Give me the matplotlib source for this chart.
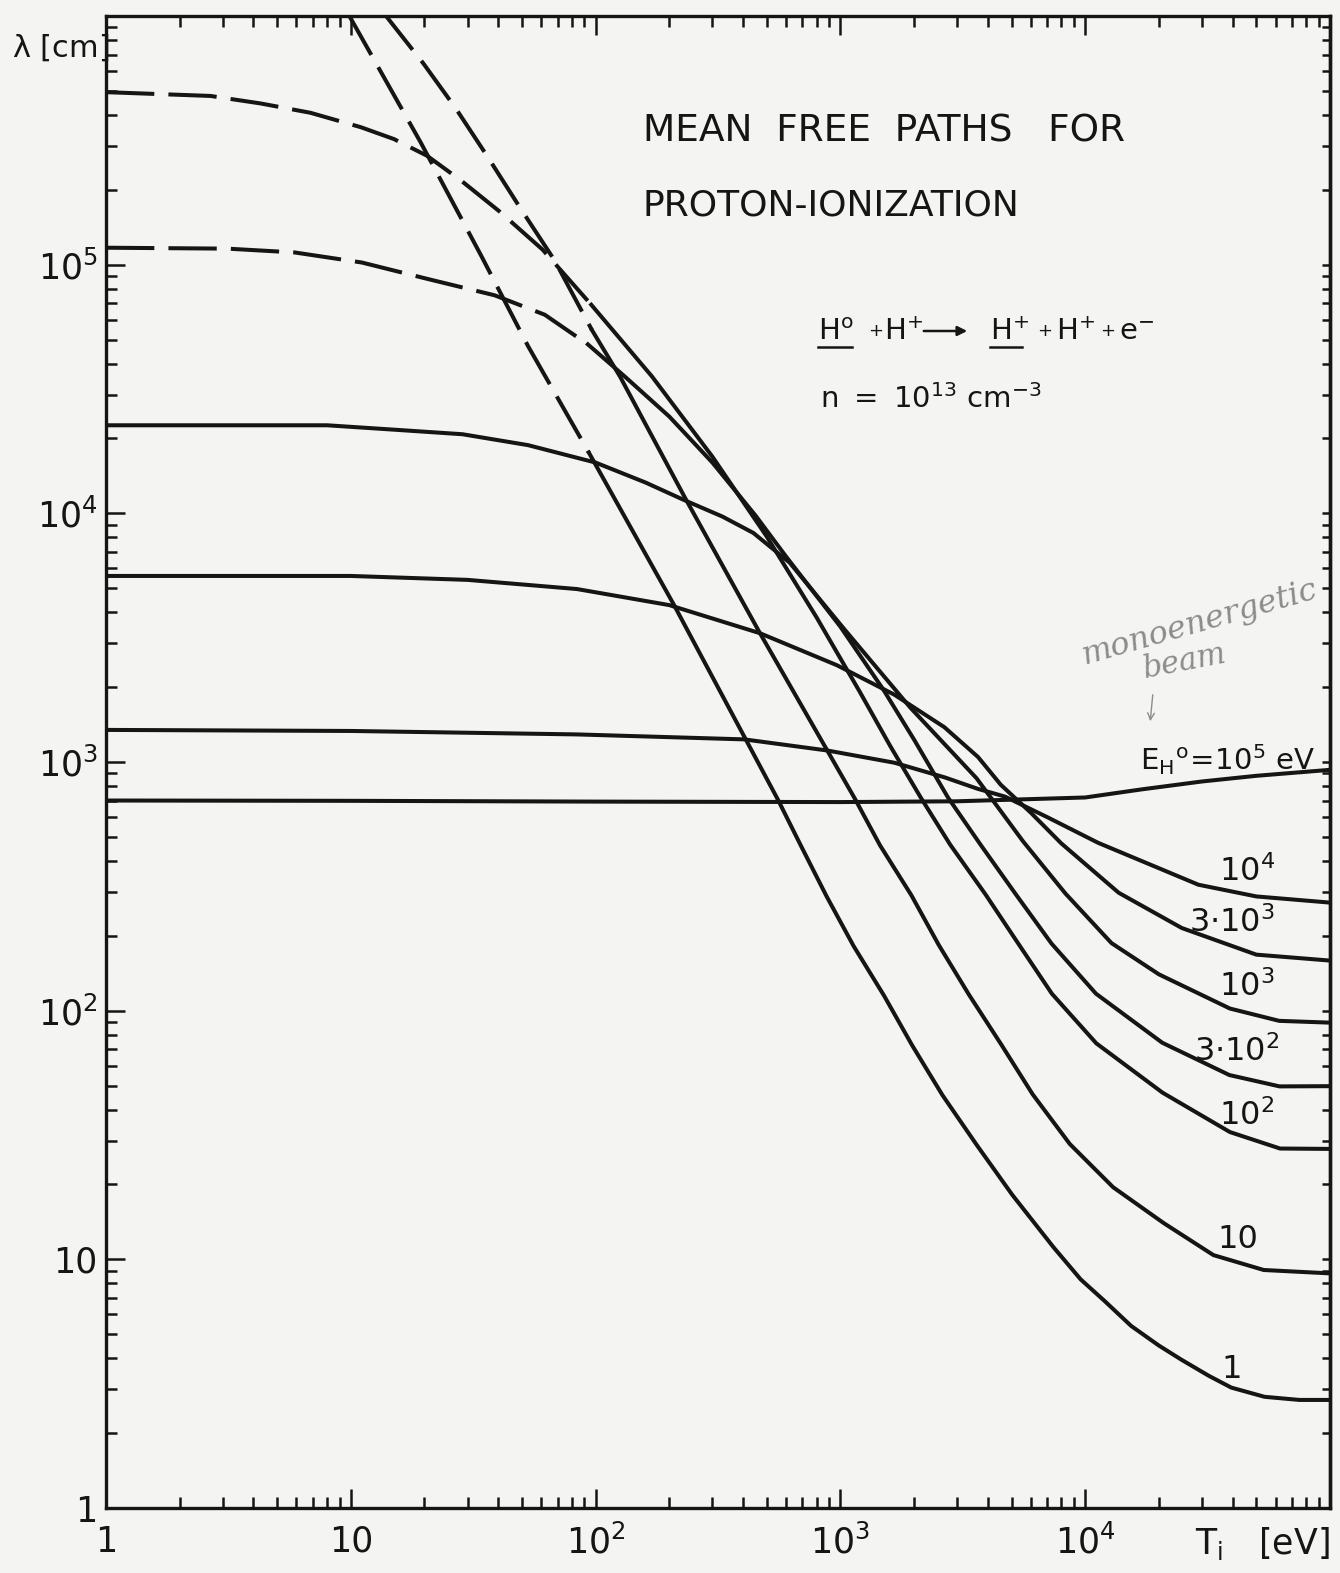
import matplotlib
matplotlib.use("Agg")
import matplotlib.pyplot as plt
from matplotlib.ticker import FixedLocator, FixedFormatter, LogLocator, NullFormatter
import numpy as np

# ion temperature T_i [eV] and mean free path lambda [cm],
# one pair of lists per H0 beam energy
t_e1 = [9.7, 19.3, 34.2, 53, 94, 208, 555, 691, 877, 1132, 1507, 1966, 2613,
        3608, 5030, 7413, 9590, 12000, 15400, 20000, 24700, 32000, 39500, 54000,
        75000, 100000]
lam_e1 = [1.03e6, 3.1e5, 1.08e5, 4.7e4, 1.75e4, 4320, 707, 459, 289, 182, 115,
          72.4, 45.7, 28.8, 18.2, 11.2, 8.3, 6.8, 5.4, 4.5, 3.95, 3.4, 3.05, 2.8,
          2.72, 2.72]

t_e10 = [13.5, 19.8, 26.8, 36, 50, 68, 96.7, 126, 234, 469, 800, 1145, 1452, 1950,
         2520, 3350, 4540, 6100, 8650, 13000, 20900, 33400, 53600, 100000]
lam_e10 = [1.04e6, 6.44e5, 4.26e5, 2.74e5, 1.65e5, 1.04e5, 5.45e4, 3.54e4, 11360,
           3300, 1320, 713, 462, 291, 184, 116, 73.1, 46.1, 29.1, 19.5, 14.0, 10.4,
           9.06, 8.78]

t_e100 = [1, 2.67, 4.28, 6.85, 11, 15, 20.5, 28.2, 40.4, 60.7, 96, 170, 300, 500,
          800, 1200, 1600, 2130, 2805, 3910, 5350, 7310, 11100, 20700, 39000, 62500,
          100000]
lam_e100 = [4.94e5, 4.77e5, 4.45e5, 4.08e5, 3.57e5, 3.2e5, 2.74e5, 2.18e5, 1.64e5,
            1.15e5, 6.9e4, 3.55e4, 16900, 8070, 3810, 1915, 1157, 719, 466, 294, 185,
            117, 73.9, 46.8, 32.5, 27.9, 27.8]

t_e300 = [1, 3.13, 5.89, 11.1, 20.6, 38.7, 62, 93, 132, 200, 300, 450, 600, 1000,
          1500, 2000, 2748, 3720, 5190, 7290, 11070, 20650, 38800, 62200, 100000]
lam_e300 = [1.17e5, 1.16e5, 1.12e5, 1.02e5, 8.76e4, 7.53e4, 6.29e4, 4.78e4, 3.54e4,
            2.45e4, 1.6e4, 9800, 6700, 3500, 1950, 1230, 721, 468, 295, 186, 117,
            74.3, 55.1, 49.6, 49.7]

t_e1k = [1, 8, 15, 28.6, 53, 100, 160, 228, 330, 441, 620, 1030, 1930, 3600, 5570,
         8300, 12800, 20000, 39000, 62000, 100000]
lam_e1k = [22600, 22600, 21700, 20800, 18800, 16000, 13300, 11350, 9700, 8340, 6340,
           3450, 1655, 860, 480, 296, 187, 140, 102, 91, 89.5]

t_e3k = [1, 10, 30, 84, 200, 469, 968, 1660, 2660, 3650, 4520, 6000, 7980, 13700,
         24800, 50000, 100000]
lam_e3k = [5600, 5600, 5400, 4960, 4275, 3296, 2450, 1866, 1380, 1047, 810, 625, 471,
           298, 215, 168, 159]

t_e10k = [1, 10, 84, 405, 886, 1664, 2670, 3640, 4700, 7000, 11300, 29000, 50000,
          100000]
lam_e10k = [1346, 1333, 1291, 1233, 1112, 993, 867, 780, 726, 600, 473, 321, 288, 272]

t_e100k = [1, 10, 100, 1000, 3000, 10000, 17000, 30000, 50000, 100000]
lam_e100k = [700, 698, 693, 690, 695, 720, 776, 835, 880, 930]

curves = [(t_e1, lam_e1, True), (t_e10, lam_e10, True), (t_e100, lam_e100, True),
          (t_e300, lam_e300, True), (t_e1k, lam_e1k, False), (t_e3k, lam_e3k, False),
          (t_e10k, lam_e10k, False), (t_e100k, lam_e100k, False)]

curve_labels = [r"$\mathdefault{10^{4}}$", r"$\mathdefault{3{\cdot}10^{3}}$",
                r"$\mathdefault{10^{3}}$", r"$\mathdefault{3{\cdot}10^{2}}$",
                r"$\mathdefault{10^{2}}$", "10", "1"]

W, H = 1340, 1573
ink = "#151515"
paper = "#f4f4f2"

fig = plt.figure(figsize=(W / 100, H / 100), dpi=100, facecolor=paper)
ax = fig.add_axes([106 / W, 1 - 1508 / H, 1224 / W, 1492 / H], facecolor=paper)
ax.set_xscale("log")
ax.set_yscale("log")
ax.set_xlim(1, 1e5)
ax.set_ylim(1, 1e6)


def px(x, y):
    return x / W, 1 - y / H


# dashed below T_i = 100 eV for the low energies
for t, lam, has_dash in curves:
    t = np.array(t)
    lam = np.array(lam)
    if has_dash:
        k = np.where(t <= 105)[0][-1]
        ax.plot(t[:k + 1], lam[:k + 1], color=ink, lw=2.9, ls=(0, (12, 3.5)),
                dash_capstyle="butt", dash_joinstyle="round")
        ax.plot(t[k:], lam[k:], color=ink, lw=2.9, solid_joinstyle="round")
    else:
        ax.plot(t, lam, color=ink, lw=2.9, solid_joinstyle="round")

for s in ax.spines.values():
    s.set_linewidth(2.4)
    s.set_color(ink)

ax.xaxis.set_major_locator(FixedLocator([1, 10, 1e2, 1e3, 1e4, 1e5]))
ax.xaxis.set_major_formatter(FixedFormatter(["1", "10", r"$\mathdefault{10^{2}}$",
                                             r"$\mathdefault{10^{3}}$",
                                             r"$\mathdefault{10^{4}}$", ""]))
ax.yaxis.set_major_locator(FixedLocator([1, 10, 1e2, 1e3, 1e4, 1e5, 1e6]))
ax.yaxis.set_major_formatter(FixedFormatter(["1", "10", r"$\mathdefault{10^{2}}$",
                                             r"$\mathdefault{10^{3}}$",
                                             r"$\mathdefault{10^{4}}$",
                                             r"$\mathdefault{10^{5}}$", ""]))
ax.xaxis.set_minor_locator(LogLocator(base=10, subs=np.arange(2, 10), numticks=20))
ax.yaxis.set_minor_locator(LogLocator(base=10, subs=np.arange(2, 10), numticks=20))
ax.xaxis.set_minor_formatter(NullFormatter())
ax.yaxis.set_minor_formatter(NullFormatter())

ax.tick_params(which="both", direction="in", top=True, right=False, color=ink,
               width=1.8, labelcolor=ink, labelsize=25)
ax.tick_params(which="major", length=14)
ax.tick_params(which="minor", length=8)
ax.tick_params(axis="x", pad=12)
ax.tick_params(axis="y", pad=6)

# short ticks on the right edge
sec = ax.secondary_yaxis("right")
sec.yaxis.set_major_locator(FixedLocator([1, 10, 1e2, 1e3, 1e4, 1e5, 1e6]))
sec.yaxis.set_minor_locator(LogLocator(base=10, subs=np.arange(2, 10), numticks=20))
sec.yaxis.set_major_formatter(NullFormatter())
sec.yaxis.set_minor_formatter(NullFormatter())
sec.tick_params(which="both", direction="in", length=6, width=1.8, color=ink)
sec.spines["right"].set_linewidth(2.4)

# axis captions standing in for the last tick labels
fig.text(*px(12, 48), r"$\mathdefault{\lambda\ [cm]}$", fontsize=22, color=ink,
         va="center", ha="left")
fig.text(*px(1195, 1543), r"$\mathdefault{T_{i}\ \ \ [eV]}$", fontsize=25, color=ink,
         va="center", ha="left")

# title and reaction
fig.text(*px(643, 132), "MEAN  FREE  PATHS   FOR", fontsize=27, color=ink,
         va="center")
fig.text(*px(643, 206), "PROTON-IONIZATION", fontsize=26, color=ink, va="center")

heavy = [(818, r"$\mathdefault{H^{o}}$"), (884, r"$\mathdefault{H^{+}}$"),
         (990, r"$\mathdefault{H^{+}}$"), (1056, r"$\mathdefault{H^{+}}$"),
         (1119, r"$\mathdefault{e^{-}}$")]
for x, s in heavy:
    fig.text(*px(x, 340), s, fontsize=21, color=ink, va="baseline", ha="left")
for x in [876, 1045, 1108]:
    fig.text(*px(x, 331), "+", fontsize=13, color=ink, va="center", ha="center")
fig.add_artist(matplotlib.patches.FancyArrowPatch(px(921, 331), px(970, 331),
                                                  transform=fig.transFigure,
                                                  arrowstyle="-|>", mutation_scale=14,
                                                  color=ink, lw=1.8))
for x0, x1 in [(818, 852), (990, 1022)]:
    fig.add_artist(plt.Line2D([x0 / W, x1 / W], [1 - 347 / H, 1 - 347 / H],
                              color=ink, lw=1.8))
fig.text(*px(820, 408), r"$\mathdefault{n\ =\ 10^{13}\ cm^{-3}}$", fontsize=21,
         color=ink, va="baseline")

# energy labels on the right
fig.text(*px(1140, 760), r"$\mathdefault{E_{H}{}^{o}\!=\!10^{5}\ eV}$", fontsize=21,
         color=ink, va="center", ha="left")
label_pos = [(1247, 872), (1232, 923), (1247, 987), (1237, 1052), (1247, 1116),
             (1238, 1239), (1232, 1370)]
for text, (x, y) in zip(curve_labels, label_pos):
    fig.text(*px(x, y), text, fontsize=23, color=ink, va="center", ha="center")

# pencil note
grey = "#8c8c8c"
fig.text(*px(1200, 622), "monoenergetic", fontsize=23, color=grey, style="italic",
         rotation=16, va="center", ha="center", family="DejaVu Serif")
fig.text(*px(1185, 662), "beam", fontsize=22, color=grey, style="italic",
         rotation=11, va="center", ha="center", family="DejaVu Serif")
fig.add_artist(matplotlib.patches.FancyArrowPatch(px(1153, 692), px(1150, 724),
                                                  transform=fig.transFigure,
                                                  arrowstyle="->", mutation_scale=12,
                                                  color=grey, lw=1.0))

fig.savefig("out.png", dpi=100, facecolor=paper)
